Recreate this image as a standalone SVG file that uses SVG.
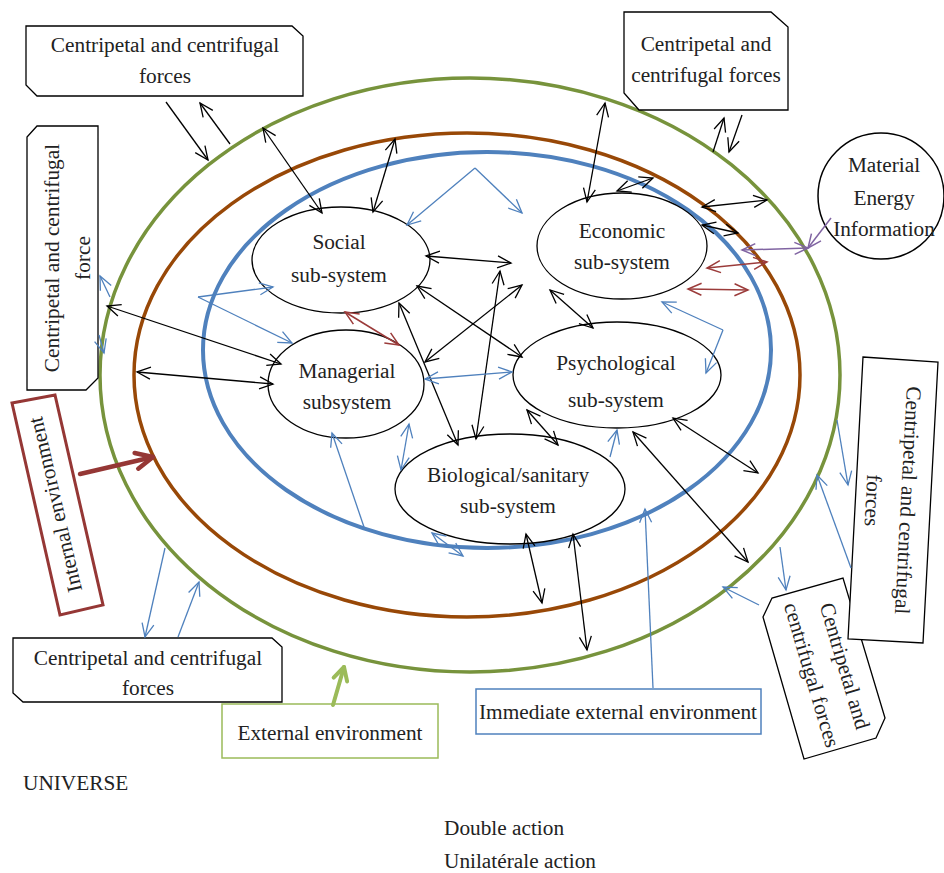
<svg xmlns="http://www.w3.org/2000/svg" width="944" height="873" viewBox="0 0 944 873">
<style>
.t{font-family:"Liberation Serif","Times New Roman",serif;font-size:21.3px;fill:#222}
.m{text-anchor:middle}
.box{fill:#fff;stroke:#000;stroke-width:1.3}
.sub{fill:#fff;stroke:#000;stroke-width:1.3}
.k{stroke:#000;stroke-width:1.3;fill:none}
.b{stroke:#4F81BD;stroke-width:1.3;fill:none}
.r{stroke:#9B3B3A;stroke-width:1.5;fill:none}
.p{stroke:#8064A2;stroke-width:1.5;fill:none}
.k.e,.k.d{marker-end:url(#mk)}
.k.d{marker-start:url(#mk)}
.b.e,.b.d{marker-end:url(#mb)}
.b.d{marker-start:url(#mb)}
.r.d{marker-end:url(#mr);marker-start:url(#mr)}
.p.e,.p.d{marker-end:url(#mp)}
.p.d{marker-start:url(#mp)}
</style>
<defs>
<marker id="mk" viewBox="0 0 14 12" refX="13.5" refY="6" markerWidth="14" markerHeight="12" markerUnits="userSpaceOnUse" orient="auto-start-reverse" overflow="visible"><path d="M0,0 L13.5,6 L0,12" fill="none" stroke="#000" stroke-width="1.3"/></marker>
<marker id="mb" viewBox="0 0 14 12" refX="13.5" refY="6" markerWidth="14" markerHeight="12" markerUnits="userSpaceOnUse" orient="auto-start-reverse" overflow="visible"><path d="M0,0 L13.5,6 L0,12" fill="none" stroke="#4F81BD" stroke-width="1.3"/></marker>
<marker id="mr" viewBox="0 0 14 12" refX="13.5" refY="6" markerWidth="14" markerHeight="12" markerUnits="userSpaceOnUse" orient="auto-start-reverse" overflow="visible"><path d="M0,0 L13.5,6 L0,12" fill="none" stroke="#9B3B3A" stroke-width="1.5"/></marker>
<marker id="mp" viewBox="0 0 14 12" refX="13.5" refY="6" markerWidth="14" markerHeight="12" markerUnits="userSpaceOnUse" orient="auto-start-reverse" overflow="visible"><path d="M0,0 L13.5,6 L0,12" fill="none" stroke="#8064A2" stroke-width="1.5"/></marker>
<marker id="mR" viewBox="0 0 20 18" refX="18" refY="9" markerWidth="20" markerHeight="18" markerUnits="userSpaceOnUse" orient="auto" overflow="visible"><path d="M1,1 L18,9 L1,17" fill="none" stroke="#953735" stroke-width="4.5" stroke-linecap="round" stroke-linejoin="round"/></marker>
<marker id="mG" viewBox="0 0 16 16" refX="14" refY="8" markerWidth="16" markerHeight="16" markerUnits="userSpaceOnUse" orient="auto" overflow="visible"><path d="M1,1 L14,8 L1,15" fill="none" stroke="#9BBB59" stroke-width="4" stroke-linecap="round" stroke-linejoin="round"/></marker>
</defs>
<rect width="944" height="873" fill="#fff"/>

<g id="environments" fill="none">
<ellipse id="external-env" cx="470" cy="375" rx="370" ry="297" stroke="#77933C" stroke-width="3.5"/>
<ellipse id="internal-env" cx="467" cy="375" rx="333" ry="242" stroke="#984807" stroke-width="3.5"/>
<ellipse id="immediate-env" cx="487" cy="350" rx="284" ry="198" stroke="#4F81BD" stroke-width="4"/>
</g>

<g id="material-energy-information">
<circle cx="881" cy="196" r="63" fill="#fff" stroke="#000" stroke-width="1.5"/>
<text class="t m" x="884" y="172">Material</text>
<text class="t m" x="884" y="205">Energy</text>
<text class="t m" x="884" y="236">Information</text>
</g>

<g id="social">
<ellipse class="sub" cx="341" cy="260" rx="89" ry="53"/>
<text class="t m" x="339" y="249">Social</text>
<text class="t m" x="339" y="282">sub-system</text>
</g>
<g id="economic">
<ellipse class="sub" cx="622" cy="246" rx="85" ry="53"/>
<text class="t m" x="622" y="238">Economic</text>
<text class="t m" x="622" y="269">sub-system</text>
</g>
<g id="managerial">
<ellipse class="sub" cx="346" cy="384" rx="78" ry="54"/>
<text class="t m" x="347" y="378">Managerial</text>
<text class="t m" x="347" y="409">subsystem</text>
</g>
<g id="psychological">
<ellipse class="sub" cx="617" cy="375" rx="104" ry="53"/>
<text class="t m" x="616" y="370">Psychological</text>
<text class="t m" x="616" y="407">sub-system</text>
</g>
<g id="biological">
<ellipse class="sub" cx="510" cy="489" rx="115" ry="55"/>
<text class="t m" x="508" y="482">Biological/sanitary</text>
<text class="t m" x="508" y="513">sub-system</text>
</g>

<g id="forces-top-left">
<polygon class="box" points="26,26 292,26 303,36 303,96 37,96 26,85"/>
<text class="t m" x="165" y="52">Centripetal and centrifugal</text>
<text class="t m" x="165" y="83">forces</text>
</g>
<g id="forces-top-right">
<polygon class="box" points="624,12 771,12 788,27 788,110 639,110 624,93"/>
<text class="t m" x="706" y="51">Centripetal and</text>
<text class="t m" x="706" y="82">centrifugal forces</text>
</g>
<g id="forces-left">
<polygon class="box" points="37,126 98,126 98,378 86,390 27,390 27,137"/>
<text class="t m" transform="translate(59,258) rotate(-90)">Centripetal and centrifugal</text>
<text class="t m" transform="translate(90,258) rotate(-90)">force</text>
</g>
<g id="forces-bottom-right">
<polygon class="box" points="763,617 772,598 843,578 885,718 876,738 804,759"/>
<text class="t m" transform="translate(838,668) rotate(73.5)">Centripetal and</text>
<text class="t m" transform="translate(805,677) rotate(73.5)">centrifugal forces</text>
</g>
<g id="forces-right">
<polygon class="box" points="863,357 938,362 923,643 848,639"/>
<text class="t m" transform="translate(901,500) rotate(93)">Centripetal and centrifugal</text>
<text class="t m" transform="translate(866,500) rotate(93)">forces</text>
</g>
<g id="forces-bottom-left">
<polygon class="box" points="13,638 272,638 282,647 282,702 23,702 13,693"/>
<text class="t m" x="148" y="665">Centripetal and centrifugal</text>
<text class="t m" x="148" y="695">forces</text>
</g>
<g id="internal-environment-label">
<polygon points="12,403 55,395 103,605 60,615" fill="#fff" stroke="#953735" stroke-width="3"/>
<text class="t m" transform="translate(62,503) rotate(-103)">Internal environment</text>
</g>
<g id="external-environment-label">
<rect x="222" y="704" width="216" height="54" fill="#fff" stroke="#9BBB59" stroke-width="1.5"/>
<text class="t m" x="330" y="740">External environment</text>
</g>
<g id="immediate-external-environment-label">
<rect x="476" y="689" width="285" height="45" fill="#fff" stroke="#4F81BD" stroke-width="1.5"/>
<text class="t m" x="618" y="719">Immediate external environment</text>
</g>
<g id="universe"><text class="t" x="23" y="790">UNIVERSE</text></g>
<g id="legend">
<text class="t" x="444" y="835">Double action</text>
<text class="t" x="444" y="868">Unilatérale action</text>
</g>

<g id="connectors">
<line class="k e" x1="166" y1="102" x2="208" y2="160"/>
<line class="k e" x1="230" y1="144" x2="200" y2="103"/>
<line class="k d" x1="263" y1="128" x2="322" y2="213"/>
<line class="k d" x1="395" y1="139" x2="373" y2="212"/>
<line class="k d" x1="107" y1="306" x2="281" y2="364"/>
<line class="k d" x1="137" y1="372" x2="273" y2="384"/>
<line class="k d" x1="426" y1="256" x2="511" y2="263"/>
<line class="k d" x1="500" y1="271" x2="476" y2="439"/>
<line class="k d" x1="425" y1="362" x2="522" y2="285"/>
<line class="k d" x1="417" y1="286" x2="522" y2="357"/>
<line class="k d" x1="399" y1="303" x2="458" y2="445"/>
<line class="k d" x1="550" y1="290" x2="593" y2="328"/>
<line class="k d" x1="527" y1="410" x2="558" y2="445"/>
<line class="k d" x1="605" y1="103" x2="587" y2="202"/>
<line class="k e" x1="713" y1="152" x2="724" y2="118"/>
<line class="k e" x1="742" y1="115" x2="729" y2="152"/>
<line class="k d" x1="617" y1="191" x2="653" y2="178"/>
<line class="k d" x1="702" y1="207" x2="767" y2="200"/>
<line class="k d" x1="702" y1="225" x2="738" y2="233"/>
<line class="k d" x1="673" y1="418" x2="758" y2="473"/>
<line class="k d" x1="633" y1="432" x2="748" y2="562"/>
<line class="k d" x1="526" y1="534" x2="542" y2="603"/>
<line class="k d" x1="573" y1="534" x2="587" y2="650"/>

<line class="b e" x1="110" y1="297" x2="100" y2="276"/>
<line class="b e" x1="99" y1="335" x2="104" y2="353"/>
<line class="b e" x1="198" y1="297" x2="273" y2="287"/>
<line class="b e" x1="198" y1="297" x2="292" y2="343"/>
<line class="b e" x1="475" y1="168" x2="407" y2="225"/>
<line class="b e" x1="475" y1="168" x2="522" y2="213"/>
<line class="b d" x1="425" y1="379" x2="512" y2="372"/>
<line class="b d" x1="409" y1="424" x2="401" y2="470"/>
<line class="b e" x1="364" y1="527" x2="332" y2="433"/>
<line class="b e" x1="610" y1="457" x2="617" y2="430"/>
<line class="b d" x1="432" y1="533" x2="463" y2="556"/>
<line class="b e" x1="653" y1="688" x2="645" y2="509"/>
<line class="b e" x1="723" y1="330" x2="662" y2="302"/>
<line class="b e" x1="723" y1="330" x2="706" y2="373"/>
<line class="b e" x1="837" y1="420" x2="848" y2="485"/>
<line class="b e" x1="851" y1="568" x2="817" y2="475"/>
<line class="b e" x1="780" y1="547" x2="786" y2="590"/>
<line class="b e" x1="759" y1="605" x2="723" y2="587"/>
<line class="b e" x1="165" y1="548" x2="145" y2="637"/>
<line class="b e" x1="178" y1="637" x2="199" y2="582"/>

<line class="r d" x1="345" y1="312" x2="399" y2="345"/>
<line class="r d" x1="707" y1="268" x2="767" y2="262"/>
<line class="r d" x1="688" y1="289" x2="748" y2="290"/>

<line class="p d" x1="808" y1="248" x2="742" y2="250"/>
<line class="p e" x1="831" y1="218" x2="808" y2="248"/>

<line x1="80" y1="474" x2="153" y2="457" stroke="#953735" stroke-width="4.5" stroke-linecap="round" marker-end="url(#mR)"/>
<line x1="333" y1="705" x2="344" y2="667" stroke="#9BBB59" stroke-width="4" stroke-linecap="round" marker-end="url(#mG)"/>
</g>
</svg>
